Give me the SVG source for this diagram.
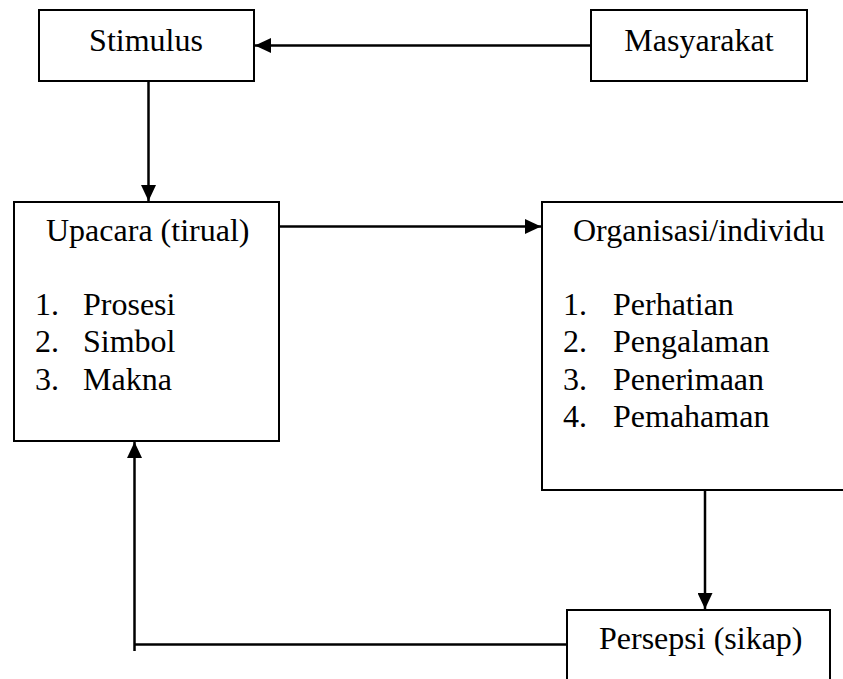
<svg xmlns="http://www.w3.org/2000/svg" width="843" height="679" viewBox="0 0 843 679">
  <style>
    .box { fill: #ffffff; stroke: #000000; stroke-width: 2; }
    .lbl { font-family: "Liberation Serif", "Times New Roman", "DejaVu Serif", serif; font-size: 32px; fill: #000000; }
    .conn { fill: none; stroke: #000000; stroke-width: 2.5; }
  </style>
  <defs>
    <marker id="arrow" markerUnits="userSpaceOnUse" markerWidth="16" markerHeight="15" viewBox="0 0 16 15" refX="16" refY="7.5" orient="auto">
      <path d="M0,0 L16,7.5 L0,15 z" fill="#000000"/>
    </marker>
  </defs>
  <rect width="843" height="679" fill="#ffffff"/>

  <g id="stimulus">
    <rect class="box" x="39" y="10" width="215" height="71"/>
    <text class="lbl" x="146" y="50.5" text-anchor="middle" font-family="Liberation Serif, serif">Stimulus</text>
  </g>

  <g id="masyarakat">
    <rect class="box" x="591" y="10" width="216" height="71"/>
    <text class="lbl" x="699" y="50.5" text-anchor="middle" font-family="Liberation Serif, serif">Masyarakat</text>
  </g>

  <g id="upacara" font-family="Liberation Serif, serif">
    <rect class="box" x="14" y="202" width="265" height="239"/>
    <text class="lbl" x="46" y="240.5">Upacara (tirual)</text>
    <text class="lbl" x="35" y="314.5">1.</text>
    <text class="lbl" x="83" y="314.5">Prosesi</text>
    <text class="lbl" x="35" y="352">2.</text>
    <text class="lbl" x="83" y="352">Simbol</text>
    <text class="lbl" x="35" y="389.5">3.</text>
    <text class="lbl" x="83" y="389.5">Makna</text>
  </g>

  <g id="organisasi" font-family="Liberation Serif, serif">
    <rect class="box" x="542" y="202" width="320" height="288"/>
    <text class="lbl" x="573" y="240.5">Organisasi/individu</text>
    <text class="lbl" x="563" y="314.5">1.</text>
    <text class="lbl" x="613" y="314.5">Perhatian</text>
    <text class="lbl" x="563" y="352">2.</text>
    <text class="lbl" x="613" y="352">Pengalaman</text>
    <text class="lbl" x="563" y="389.5">3.</text>
    <text class="lbl" x="613" y="389.5">Penerimaan</text>
    <text class="lbl" x="563" y="426.5">4.</text>
    <text class="lbl" x="613" y="426.5">Pemahaman</text>
  </g>

  <g id="persepsi" font-family="Liberation Serif, serif">
    <rect class="box" x="567" y="610" width="263" height="100"/>
    <text class="lbl" x="599" y="648.5">Persepsi (sikap)</text>
  </g>

  <g id="connectors">
    <path class="conn" d="M591,45.5 L255,45.5" marker-end="url(#arrow)"/>
    <path class="conn" d="M148.5,81 L148.5,201" marker-end="url(#arrow)"/>
    <path class="conn" d="M279,226.5 L541,226.5" marker-end="url(#arrow)"/>
    <path class="conn" d="M705,490 L705,609" marker-end="url(#arrow)"/>
    <path class="conn" d="M567,644.5 L134.5,644.5"/>
    <path class="conn" d="M134.5,651 L134.5,442" marker-end="url(#arrow)"/>
  </g>
</svg>
